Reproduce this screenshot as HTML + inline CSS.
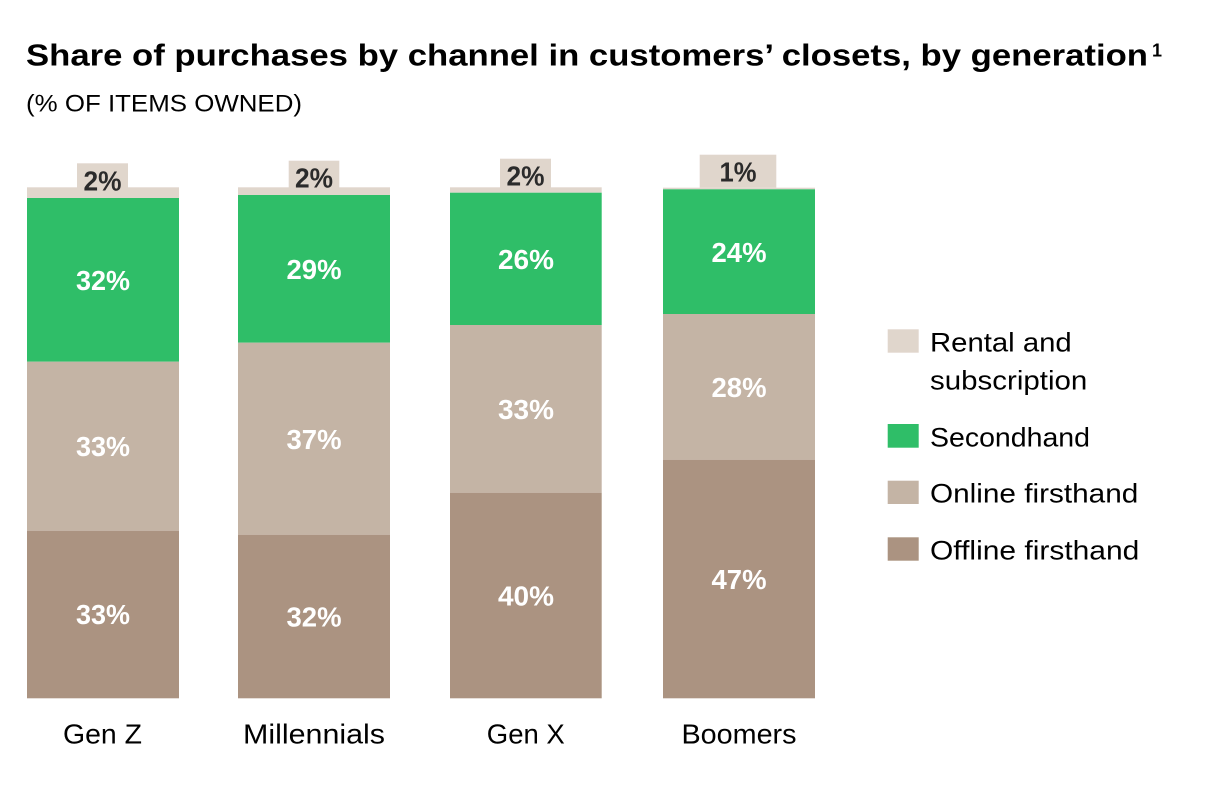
<!DOCTYPE html>
<html>
<head>
<meta charset="utf-8">
<style>
  html, body { margin: 0; padding: 0; background: #ffffff; }
  body { width: 1206px; height: 792px; overflow: hidden; }
  svg { display: block; }
  text { font-family: "Liberation Sans", "DejaVu Sans", sans-serif; }
</style>
</head>
<body>
<svg width="1206" height="792" viewBox="0 0 1206 792" xmlns="http://www.w3.org/2000/svg">
  <rect x="0" y="0" width="1206" height="792" fill="#ffffff"/>

  <!-- Title -->
  <text x="26" y="65.5" font-size="31" font-weight="bold" fill="#000" textLength="1122" lengthAdjust="spacingAndGlyphs">Share of purchases by channel in customers’ closets, by generation</text>
  <text x="1152" y="56.5" font-size="18" font-weight="bold" fill="#000">1</text>
  <text x="26" y="111.5" font-size="24" fill="#000" textLength="276" lengthAdjust="spacingAndGlyphs">(% OF ITEMS OWNED)</text>

  <!-- Gen Z -->
  <rect x="77" y="163.3" width="51" height="30" fill="#e0d6cc"/>
  <rect x="27" y="187.3" width="152" height="10.7" fill="#e0d6cc"/>
  <rect x="27" y="198" width="152" height="163.7" fill="#2fbe68"/>
  <rect x="27" y="361.7" width="152" height="169" fill="#c4b4a5"/>
  <rect x="27" y="530.7" width="152" height="167.6" fill="#ab9381"/>

  <!-- Millennials -->
  <rect x="288.7" y="160.7" width="50.6" height="30" fill="#e0d6cc"/>
  <rect x="238" y="187.3" width="152" height="7.7" fill="#e0d6cc"/>
  <rect x="238" y="195" width="152" height="147.7" fill="#2fbe68"/>
  <rect x="238" y="342.7" width="152" height="192" fill="#c4b4a5"/>
  <rect x="238" y="534.7" width="152" height="163.6" fill="#ab9381"/>

  <!-- Gen X -->
  <rect x="500" y="158.7" width="51" height="30" fill="#e0d6cc"/>
  <rect x="450" y="187.3" width="151.7" height="5.4" fill="#e0d6cc"/>
  <rect x="450" y="192.7" width="151.7" height="132.3" fill="#2fbe68"/>
  <rect x="450" y="325" width="151.7" height="167.7" fill="#c4b4a5"/>
  <rect x="450" y="492.7" width="151.7" height="205.6" fill="#ab9381"/>

  <!-- Boomers -->
  <rect x="699.7" y="154.7" width="76.6" height="33" fill="#e0d6cc"/>
  <rect x="663" y="187.7" width="152" height="1.6" fill="#e0d6cc"/>
  <rect x="663" y="189.3" width="152" height="124.7" fill="#2fbe68"/>
  <rect x="663" y="314" width="152" height="145.7" fill="#c4b4a5"/>
  <rect x="663" y="459.7" width="152" height="238.6" fill="#ab9381"/>

  <!-- Top labels -->
  <g font-size="28" font-weight="bold" fill="#2b2b2b" text-anchor="middle">
    <text x="102.5" y="190.7" textLength="38" lengthAdjust="spacingAndGlyphs">2%</text>
    <text x="314" y="187.7" textLength="38" lengthAdjust="spacingAndGlyphs">2%</text>
    <text x="525.5" y="185.7" textLength="38" lengthAdjust="spacingAndGlyphs">2%</text>
    <text x="738" y="181.7" textLength="37" lengthAdjust="spacingAndGlyphs">1%</text>
  </g>

  <!-- In-bar labels -->
  <g font-size="28" font-weight="bold" fill="#ffffff" text-anchor="middle">
    <text x="103" y="290" textLength="54" lengthAdjust="spacingAndGlyphs">32%</text>
    <text x="103" y="456" textLength="54" lengthAdjust="spacingAndGlyphs">33%</text>
    <text x="103" y="624" textLength="54" lengthAdjust="spacingAndGlyphs">33%</text>

    <text x="314" y="279" textLength="55" lengthAdjust="spacingAndGlyphs">29%</text>
    <text x="314" y="449" textLength="55" lengthAdjust="spacingAndGlyphs">37%</text>
    <text x="314" y="626.5" textLength="55" lengthAdjust="spacingAndGlyphs">32%</text>

    <text x="526" y="269" textLength="56" lengthAdjust="spacingAndGlyphs">26%</text>
    <text x="526" y="419" textLength="56" lengthAdjust="spacingAndGlyphs">33%</text>
    <text x="526" y="605.5" textLength="56" lengthAdjust="spacingAndGlyphs">40%</text>

    <text x="739" y="262" textLength="55" lengthAdjust="spacingAndGlyphs">24%</text>
    <text x="739" y="397" textLength="55" lengthAdjust="spacingAndGlyphs">28%</text>
    <text x="739" y="589" textLength="55" lengthAdjust="spacingAndGlyphs">47%</text>
  </g>

  <!-- Category labels -->
  <g font-size="28" fill="#000" text-anchor="middle">
    <text x="102.5" y="743.3" textLength="79" lengthAdjust="spacingAndGlyphs">Gen Z</text>
    <text x="314" y="743.3" textLength="142" lengthAdjust="spacingAndGlyphs">Millennials</text>
    <text x="525.8" y="743.3" textLength="78" lengthAdjust="spacingAndGlyphs">Gen X</text>
    <text x="739" y="743.3" textLength="115" lengthAdjust="spacingAndGlyphs">Boomers</text>
  </g>

  <!-- Legend -->
  <rect x="887.7" y="329.3" width="31" height="23.4" fill="#e0d6cc"/>
  <rect x="887.7" y="424" width="31" height="23.7" fill="#2fbe68"/>
  <rect x="887.7" y="480.7" width="31" height="23.3" fill="#c4b4a5"/>
  <rect x="887.7" y="537.3" width="31" height="23.4" fill="#ab9381"/>
  <g font-size="27" fill="#000">
    <text x="930" y="351.7" textLength="141.7" lengthAdjust="spacingAndGlyphs">Rental and</text>
    <text x="930" y="389.3" textLength="157.3" lengthAdjust="spacingAndGlyphs">subscription</text>
    <text x="930" y="446.7" textLength="160" lengthAdjust="spacingAndGlyphs">Secondhand</text>
    <text x="930" y="502.7" textLength="208.3" lengthAdjust="spacingAndGlyphs">Online firsthand</text>
    <text x="930" y="559.3" textLength="209.3" lengthAdjust="spacingAndGlyphs">Offline firsthand</text>
  </g>
</svg>
</body>
</html>
